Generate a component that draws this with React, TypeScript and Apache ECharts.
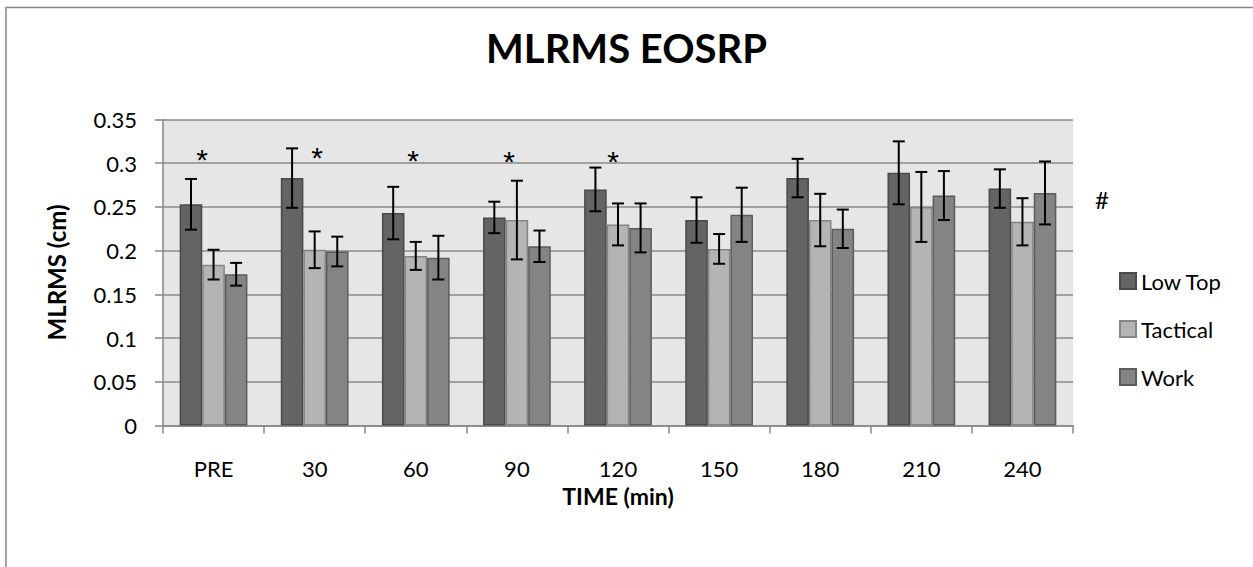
import React, { useEffect, useRef } from "react";
import * as echarts from "echarts";

const categories = ["PRE", "30", "60", "90", "120", "150", "180", "210", "240"];
const seriesNames = ["Low Top", "Tactical", "Work"];
const lowTop = [0.253, 0.283, 0.243, 0.238, 0.27, 0.235, 0.283, 0.289, 0.271];
const lowTopErr = [0.029, 0.034, 0.03, 0.018, 0.025, 0.026, 0.022, 0.036, 0.022];
const tactical = [0.184, 0.201, 0.194, 0.235, 0.23, 0.202, 0.235, 0.25, 0.233];
const tacticalErr = [0.017, 0.021, 0.016, 0.045, 0.024, 0.017, 0.03, 0.04, 0.027];
const work = [0.173, 0.199, 0.192, 0.205, 0.226, 0.241, 0.225, 0.263, 0.266];
const workErr = [0.013, 0.017, 0.025, 0.018, 0.028, 0.031, 0.022, 0.028, 0.036];
const yTicks = [0, 0.05, 0.1, 0.15, 0.2, 0.25, 0.3, 0.35];

const FONT = "Lato, 'Open Sans', sans-serif";
const GAP = 0.33;

export default function App() {
  const ref = useRef<HTMLDivElement>(null);
  useEffect(() => {
    if (!ref.current) return;
    const chart = echarts.init(ref.current, null, { renderer: "svg" });
    const values = [lowTop, tactical, work];
    const errs = [lowTopErr, tacticalErr, workErr];
    const fills = ["#646464", "#b4b4b4", "#848484"];
    const borders = ["#4a4a4a", "#858585", "#5c5c5c"];
    const errData: number[][] = [];
    values.forEach((arr, s) => arr.forEach((v, i) => errData.push([i, v, errs[s][i], s])));

    const bars = seriesNames.map((name, s) => ({
      name,
      type: "bar",
      data: values[s],
      barGap: "0%",
      barCategoryGap: GAP * 100 + "%",
      itemStyle: { color: fills[s], borderColor: borders[s], borderWidth: 1.5 },
    }));

    chart.setOption({
      animation: false,
      backgroundColor: "#ffffff",
      title: {
        text: "MLRMS EOSRP",
        left: "center",
        top: 23,
        textStyle: { fontFamily: FONT, fontSize: 40, fontWeight: "bold", color: "#000" },
      },
      grid: {
        left: 163,
        right: 180,
        top: 119.5,
        bottom: 141.5,
        show: true,
        backgroundColor: "#e6e6e6",
        borderWidth: 0,
      },
      legend: {
        orient: "vertical",
        left: 1114,
        top: 265,
        itemWidth: 16,
        itemHeight: 16,
        itemGap: 26,
        icon: "rect",
        data: seriesNames,
        textStyle: { fontFamily: FONT, fontSize: 22, color: "#000" },
      },
      xAxis: {
        type: "category",
        data: categories,
        name: "TIME (min)",
        nameLocation: "middle",
        nameGap: 59,
        nameTextStyle: { fontFamily: FONT, fontSize: 23, fontWeight: "bold", color: "#000" },
        axisLine: { lineStyle: { color: "#868686", width: 1.5 } },
        axisTick: { show: true, length: 8, interval: 0, lineStyle: { color: "#868686", width: 1.5 } },
        axisLabel: { fontFamily: FONT, fontSize: 22, color: "#000", margin: 32, interval: 0 },
      },
      yAxis: {
        type: "value",
        min: yTicks[0],
        max: yTicks[yTicks.length - 1],
        interval: 0.05,
        name: "MLRMS (cm)",
        nameLocation: "middle",
        nameGap: 95,
        nameTextStyle: { fontFamily: FONT, fontSize: 24, fontWeight: "bold", color: "#000" },
        axisLine: { show: true, lineStyle: { color: "#868686", width: 1.5 } },
        axisTick: { show: true, length: 8, lineStyle: { color: "#868686", width: 1.5 } },
        axisLabel: { fontFamily: FONT, fontSize: 22, color: "#000", margin: 26 },
        splitLine: { lineStyle: { color: "#8a8a8a", width: 1.5 } },
      },
      series: [
        ...bars,
        {
          type: "custom",
          name: "err",
          data: errData,
          z: 5,
          renderItem: (_params: any, api: any) => {
            const ci = api.value(0);
            const v = api.value(1);
            const e = api.value(2);
            const s = api.value(3);
            const center = api.coord([ci, v]);
            const band = api.size([1, 0])[0];
            const bw = (band * (1 - GAP)) / 3;
            const x = center[0] + (s - 1) * bw;
            const top = api.coord([ci, v + e])[1];
            const bot = api.coord([ci, v - e])[1];
            const cap = 6;
            const st = { stroke: "#000", lineWidth: 2 };
            return {
              type: "group",
              children: [
                { type: "line", shape: { x1: x, y1: top, x2: x, y2: bot }, style: st },
                { type: "line", shape: { x1: x - cap, y1: top, x2: x + cap, y2: top }, style: st },
                { type: "line", shape: { x1: x - cap, y1: bot, x2: x + cap, y2: bot }, style: st },
              ],
            };
          },
        },
      ],
      graphic: [
        {
          type: "rect",
          shape: { x: 6, y: 7.5, width: 1300, height: 600 },
          style: { fill: "none", stroke: "#868686", lineWidth: 1.5 },
          silent: true,
        },
        ...[
          [202, 157],
          [317, 155],
          [413, 158],
          [509, 159],
          [613, 159],
        ].map(([x, y]) => ({
          type: "text",
          x,
          y: y + 2,
          style: {
            text: "*",
            fontFamily: "'Liberation Sans', Arial, sans-serif",
            fontSize: 30,
            fill: "#000",
            align: "center",
            verticalAlign: "middle",
          },
        })),
        {
          type: "text",
          x: 1102,
          y: 199,
          style: { text: "#", fontFamily: FONT, fontSize: 24, fill: "#000", align: "center", verticalAlign: "middle" },
        },
      ],
    });
    return () => chart.dispose();
  }, []);
  return <div ref={ref} style={{ position: "absolute", left: 0, top: 0, width: 1253, height: 567 }} />;
}
